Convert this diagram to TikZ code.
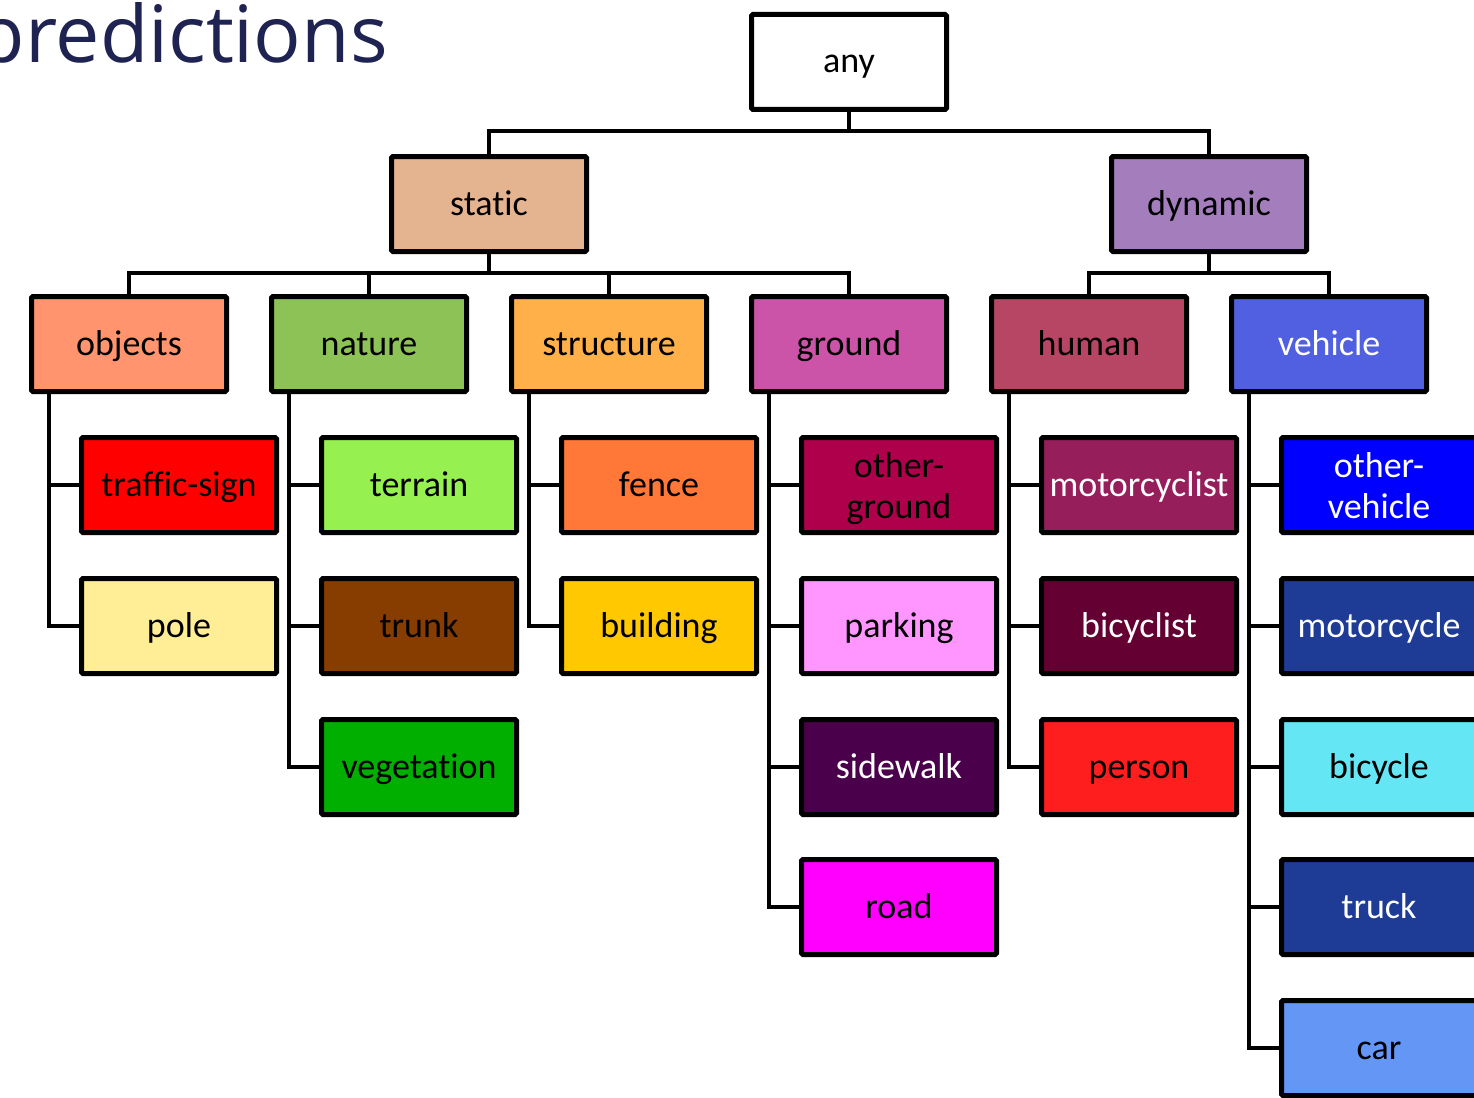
\documentclass[tikz,border=0pt]{standalone}
\usepackage{fontspec}
\setmainfont[Ligatures=NoCommon]{Carlito}
\newfontfamily\titlefont{Open Sans}
\definecolor{titlecol}{RGB}{31,35,82}
\definecolor{cStatic}{RGB}{228,180,145}
\definecolor{cDynamic}{RGB}{164,126,188}
\definecolor{cObjects}{RGB}{255,148,110}
\definecolor{cNature}{RGB}{140,194,86}
\definecolor{cStructure}{RGB}{255,176,72}
\definecolor{cGround}{RGB}{204,84,168}
\definecolor{cHuman}{RGB}{182,70,100}
\definecolor{cVehicle}{RGB}{80,96,225}
\definecolor{cTrafficSign}{RGB}{255,0,0}
\definecolor{cPole}{RGB}{255,238,150}
\definecolor{cTerrain}{RGB}{150,240,80}
\definecolor{cTrunk}{RGB}{135,60,0}
\definecolor{cVegetation}{RGB}{0,175,0}
\definecolor{cFence}{RGB}{255,120,56}
\definecolor{cBuilding}{RGB}{255,200,0}
\definecolor{cOtherGround}{RGB}{175,0,75}
\definecolor{cParking}{RGB}{255,150,255}
\definecolor{cSidewalk}{RGB}{75,0,75}
\definecolor{cRoad}{RGB}{255,0,255}
\definecolor{cMotorcyclist}{RGB}{150,30,90}
\definecolor{cBicyclist}{RGB}{100,0,50}
\definecolor{cPerson}{RGB}{255,30,30}
\definecolor{cOtherVehicle}{RGB}{0,0,255}
\definecolor{cMotorcycle}{RGB}{30,60,150}
\definecolor{cBicycle}{RGB}{100,230,245}
\definecolor{cTruck}{RGB}{30,60,150}
\definecolor{cCar}{RGB}{100,150,245}
\newcommand{\twolines}[2]{\raisebox{0pt}[26pt][4pt]{\begin{tabular}{@{}c@{}}#1\\#2\end{tabular}}}
\begin{document}
\begin{tikzpicture}[x=1pt,y=-1pt,
  box/.style={draw=black,line width=5pt,rounded corners=1.5pt,minimum width=195pt,minimum height=95pt,inner sep=0pt,align=center,font=\fontsize{36}{41}\selectfont,text=black,text height=26pt,text depth=4pt},
  wt/.style={text=white},
  link/.style={draw=black,line width=4.8pt}]
\useasboundingbox (0,0) rectangle (1474,1097);
\clip (0,0) rectangle (1474,1097);
\node[anchor=base east,text=titlecol,font=\titlefont\fontsize{79}{79}\selectfont,inner sep=0pt] (title) at (388,63) {predictions};
% level 0
\node[box,fill=white] (any) at (849,62) {any};
% level 1
\node[box,fill=cStatic] (static) at (489,204) {static};
\node[box,fill=cDynamic] (dynamic) at (1209,204) {dynamic};
% level 2
\node[box,fill=cObjects] (objects) at (129,344) {objects};
\node[box,fill=cNature] (nature) at (369,344) {nature};
\node[box,fill=cStructure] (structure) at (609,344) {structure};
\node[box,fill=cGround] (ground) at (849,344) {ground};
\node[box,fill=cHuman] (human) at (1089,344) {human};
\node[box,fill=cVehicle,wt] (vehicle) at (1329,344) {vehicle};
% level 3
\node[box,fill=cTrafficSign] (trafficsign) at (179,485) {traffic-sign};
\node[box,fill=cPole] (pole) at (179,626) {pole};
\node[box,fill=cTerrain] (terrain) at (419,485) {terrain};
\node[box,fill=cTrunk] (trunk) at (419,626) {trunk};
\node[box,fill=cVegetation] (vegetation) at (419,767) {vegetation};
\node[box,fill=cFence] (fence) at (659,485) {fence};
\node[box,fill=cBuilding] (building) at (659,626) {building};
\node[box,fill=cOtherGround] (otherground) at (899,485) {\twolines{other-}{ground}};
\node[box,fill=cParking] (parking) at (899,626) {parking};
\node[box,fill=cSidewalk,wt] (sidewalk) at (899,767) {sidewalk};
\node[box,fill=cRoad] (road) at (899,907) {road};
\node[box,fill=cMotorcyclist,wt] (motorcyclist) at (1139,485) {motorcyclist};
\node[box,fill=cBicyclist,wt] (bicyclist) at (1139,626) {bicyclist};
\node[box,fill=cPerson] (person) at (1139,767) {person};
\node[box,fill=cOtherVehicle,wt] (othervehicle) at (1379,485) {\twolines{other-}{vehicle}};
\node[box,fill=cMotorcycle,wt] (motorcycle) at (1379,626) {motorcycle};
\node[box,fill=cBicycle] (bicycle) at (1379,767) {bicycle};
\node[box,fill=cTruck,wt] (truck) at (1379,907) {truck};
\node[box,fill=cCar] (car) at (1379,1048) {car};
% connectors level 0-1
\draw[link] (any.south) -- ++(0,19) -| (static.north);
\draw[link] (any.south) -- ++(0,19) -| (dynamic.north);
% level 1-2
\foreach \c in {objects,nature,structure,ground}
  \draw[link] (static.south) -- ++(0,19) -| (\c.north);
\foreach \c in {human,vehicle}
  \draw[link] (dynamic.south) -- ++(0,19) -| (\c.north);
% level 2-3
\foreach \c in {trafficsign,pole}
  \draw[link] ([xshift=20pt]objects.south west) |- (\c.west);
\foreach \c in {terrain,trunk,vegetation}
  \draw[link] ([xshift=20pt]nature.south west) |- (\c.west);
\foreach \c in {fence,building}
  \draw[link] ([xshift=20pt]structure.south west) |- (\c.west);
\foreach \c in {otherground,parking,sidewalk,road}
  \draw[link] ([xshift=20pt]ground.south west) |- (\c.west);
\foreach \c in {motorcyclist,bicyclist,person}
  \draw[link] ([xshift=20pt]human.south west) |- (\c.west);
\foreach \c in {othervehicle,motorcycle,bicycle,truck,car}
  \draw[link] ([xshift=20pt]vehicle.south west) |- (\c.west);
\end{tikzpicture}
\end{document}
